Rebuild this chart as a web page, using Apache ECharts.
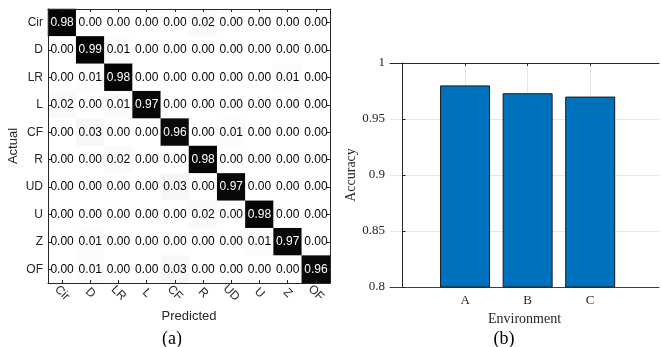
<!DOCTYPE html>
<html>
<head>
<meta charset="utf-8">
<script src="https://cdn.jsdelivr.net/npm/echarts@6.0.0/dist/echarts.min.js"></script>
<style>
  html, body { margin: 0; padding: 0; background: #fff; }
  #box { width: 662px; height: 347px; }
</style>
</head>
<body>
<div id="box"></div>
<script>
// class names (rows = actual, columns = predicted)
const classes = ['Cir', 'D', 'LR', 'L', 'CF', 'R', 'UD', 'U', 'Z', 'OF'];

// confusion matrix rows
const rowCir = [0.98, 0.00, 0.00, 0.00, 0.00, 0.02, 0.00, 0.00, 0.00, 0.00];
const rowD   = [0.00, 0.99, 0.01, 0.00, 0.00, 0.00, 0.00, 0.00, 0.00, 0.00];
const rowLR  = [0.00, 0.01, 0.98, 0.00, 0.00, 0.00, 0.00, 0.00, 0.01, 0.00];
const rowL   = [0.02, 0.00, 0.01, 0.97, 0.00, 0.00, 0.00, 0.00, 0.00, 0.00];
const rowCF  = [0.00, 0.03, 0.00, 0.00, 0.96, 0.00, 0.01, 0.00, 0.00, 0.00];
const rowR   = [0.00, 0.00, 0.02, 0.00, 0.00, 0.98, 0.00, 0.00, 0.00, 0.00];
const rowUD  = [0.00, 0.00, 0.00, 0.00, 0.03, 0.00, 0.97, 0.00, 0.00, 0.00];
const rowU   = [0.00, 0.00, 0.00, 0.00, 0.00, 0.02, 0.00, 0.98, 0.00, 0.00];
const rowZ   = [0.00, 0.01, 0.00, 0.00, 0.00, 0.00, 0.00, 0.01, 0.97, 0.00];
const rowOF  = [0.00, 0.01, 0.00, 0.00, 0.03, 0.00, 0.00, 0.00, 0.00, 0.96];
const confRows = [rowCir, rowD, rowLR, rowL, rowCF, rowR, rowUD, rowU, rowZ, rowOF];

// accuracy per environment
const envNames = ['A', 'B', 'C'];
const accuracy = [0.980, 0.973, 0.970];
const envPos = [1, 2, 3];
const accTicks = [0.8, 0.85, 0.9, 0.95, 1];

const ink = '#262626';
const sans = '"Liberation Sans", Arial, sans-serif';
const serif = '"Liberation Serif", "Times New Roman", serif';

// heatmap data [col, row, value]
const heatData = [];
confRows.forEach((row, r) => {
  row.forEach((v, c) => {
    heatData.push({
      value: [c, r, v],
      label: { color: v > 0.5 ? '#ffffff' : '#000000' }
    });
  });
});

const boxLine = { show: true, lineStyle: { color: ink, width: 1 } };
const inTick = { show: true, inside: true, length: 3, alignWithLabel: true, lineStyle: { color: ink } };

const myChart = echarts.init(document.getElementById('box'));

const option = {
  animation: false,
  grid: [
    { left: 48, top: 9, width: 282, height: 274, containLabel: false },
    { left: 390, top: 63, right: 3, height: 224, containLabel: false }
  ],
  visualMap: {
    type: 'continuous',
    show: false,
    seriesIndex: 0,
    min: 0,
    max: 1,
    inRange: { color: ['#ffffff', '#000000'] }
  },
  xAxis: [
    {
      gridIndex: 0, type: 'category', data: classes, position: 'bottom', z: 5,
      axisLine: boxLine, axisTick: inTick, splitLine: { show: false },
      axisLabel: {
        rotate: -45, align: 'center', verticalAlign: 'middle', margin: 10,
        color: ink, fontSize: 12, fontFamily: sans
      },
      name: 'Predicted', nameLocation: 'middle', nameGap: 26,
      nameTextStyle: { color: ink, fontSize: 13, fontFamily: sans }
    },
    {
      gridIndex: 0, type: 'category', data: classes, position: 'top', z: 5,
      axisLine: boxLine, axisTick: inTick, axisLabel: { show: false }, splitLine: { show: false }
    },
    {
      gridIndex: 1, type: 'value', min: -0.2, max: 4.1, position: 'bottom',
      axisLine: { show: true, lineStyle: { color: '#404040', width: 1 } },
      axisTick: { show: true, inside: true, length: 3, customValues: envPos, lineStyle: { color: ink } },
      axisLabel: {
        customValues: envPos, margin: 7, color: ink, fontSize: 13, fontFamily: serif,
        formatter: v => envNames[envPos.indexOf(v)] || ''
      },
      splitLine: { show: true, lineStyle: { color: '#e6e6e6', width: 1 } },
      name: 'Environment', nameLocation: 'middle', nameGap: 22,
      nameTextStyle: { color: ink, fontSize: 14, fontFamily: serif }
    },
    {
      gridIndex: 1, type: 'value', min: -0.2, max: 4.1, position: 'top',
      axisLine: { show: true, lineStyle: { color: ink, width: 1 } },
      axisTick: { show: true, inside: true, length: 3, customValues: envPos, lineStyle: { color: ink } },
      axisLabel: { show: false }, splitLine: { show: false }
    }
  ],
  yAxis: [
    {
      gridIndex: 0, type: 'category', data: classes, inverse: true, position: 'left', z: 5,
      axisLine: boxLine, axisTick: inTick, splitLine: { show: false },
      axisLabel: { margin: 5, color: ink, fontSize: 12, fontFamily: sans },
      name: 'Actual', nameLocation: 'middle', nameGap: 28,
      nameTextStyle: { color: ink, fontSize: 13, fontFamily: sans }
    },
    {
      gridIndex: 0, type: 'category', data: classes, inverse: true, position: 'right', z: 5,
      axisLine: boxLine, axisTick: inTick, axisLabel: { show: false }, splitLine: { show: false }
    },
    {
      gridIndex: 1, type: 'value', position: 'left',
      min: accTicks[0], max: accTicks[accTicks.length - 1], interval: 0.05,
      axisLine: { show: true, lineStyle: { color: ink, width: 1 } },
      axisTick: { show: true, inside: true, length: 3, lineStyle: { color: ink } },
      axisLabel: {
        margin: 5, color: ink, fontSize: 13, fontFamily: serif,
        formatter: v => String(+v.toFixed(2))
      },
      splitLine: { show: true, lineStyle: { color: '#e6e6e6', width: 1 } },
      name: 'Accuracy', nameLocation: 'middle', nameGap: 17,
      nameTextStyle: { color: ink, fontSize: 14, fontFamily: serif }
    }
  ],
  series: [
    {
      type: 'heatmap',
      xAxisIndex: 0,
      yAxisIndex: 0,
      data: heatData,
      itemStyle: { borderWidth: 0 },
      label: {
        show: true, fontSize: 12, fontFamily: sans,
        formatter: p => p.value[2].toFixed(2)
      }
    },
    {
      type: 'bar',
      xAxisIndex: 2,
      yAxisIndex: 2,
      barWidth: 50,
      data: envNames.map((n, i) => [envPos[i], accuracy[i]]),
      itemStyle: { color: '#0072BD', borderColor: '#1a1a1a', borderWidth: 1 }
    }
  ],
  graphic: [
    { type: 'text', x: 172, y: 339, style: { text: '(a)', font: '18px ' + serif, fill: '#000', align: 'center', verticalAlign: 'middle' } },
    { type: 'text', x: 504, y: 339, style: { text: '(b)', font: '18px ' + serif, fill: '#000', align: 'center', verticalAlign: 'middle' } }
  ]
};

myChart.setOption(option);
</script>
</body>
</html>
